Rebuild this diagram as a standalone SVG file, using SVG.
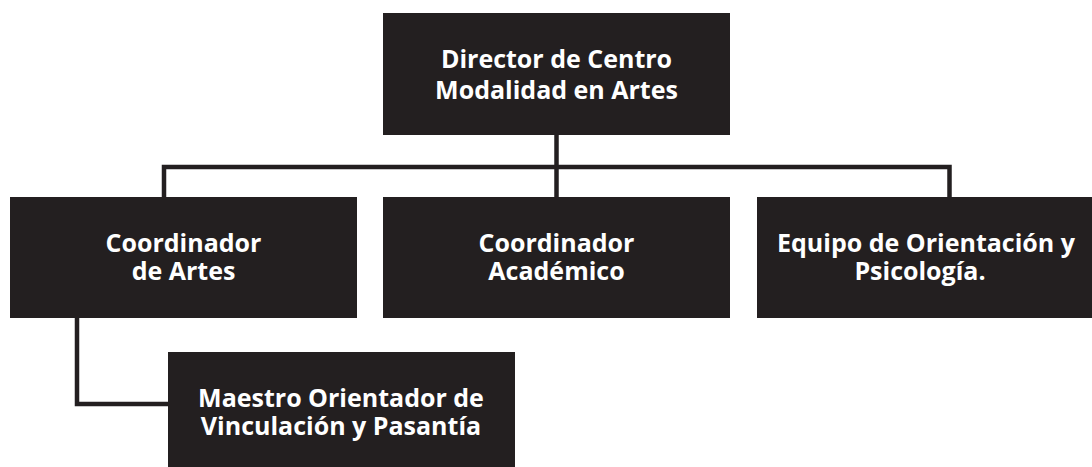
<svg xmlns="http://www.w3.org/2000/svg" width="1092" height="467" viewBox="0 0 1092 467">
<style>
.box{fill:#231f20}
.lbl{fill:#ffffff;font-family:"Open Sans","Noto Sans","Liberation Sans",sans-serif;font-weight:bold;font-size:25px;text-anchor:middle}
.conn{fill:none;stroke:#231f20;stroke-width:4.5;stroke-linejoin:miter}
</style>
<rect width="1092" height="467" fill="#ffffff"/>
<g id="connectors">
<path class="conn" d="M556.5,135 V197"/>
<path class="conn" d="M164,197 V167 H949.5 V197"/>
<path class="conn" d="M77,318 V404 H168"/>
</g>
<g id="director">
<rect class="box" x="383" y="13" width="347" height="122"/>
<text class="lbl" x="556.5" y="67.5">Director de Centro</text>
<text class="lbl" x="556.5" y="98.5">Modalidad en Artes</text>
</g>
<g id="coord-artes">
<rect class="box" x="10" y="197" width="347" height="121"/>
<text class="lbl" x="183.5" y="251.5">Coordinador</text>
<text class="lbl" x="183.5" y="279.5">de Artes</text>
</g>
<g id="coord-academico">
<rect class="box" x="383" y="197" width="347" height="121"/>
<text class="lbl" x="556.5" y="251.5">Coordinador</text>
<text class="lbl" x="556.5" y="279.5">Académico</text>
</g>
<g id="equipo">
<rect class="box" x="757" y="197" width="335" height="121"/>
<text class="lbl" x="926" y="251.5">Equipo de Orientación y</text>
<text class="lbl" x="920" y="279.5">Psicología.</text>
</g>
<g id="maestro">
<rect class="box" x="168" y="352" width="347" height="115"/>
<text class="lbl" x="341" y="406.5">Maestro Orientador de</text>
<text class="lbl" x="341" y="435">Vinculación y Pasantía</text>
</g>
</svg>
